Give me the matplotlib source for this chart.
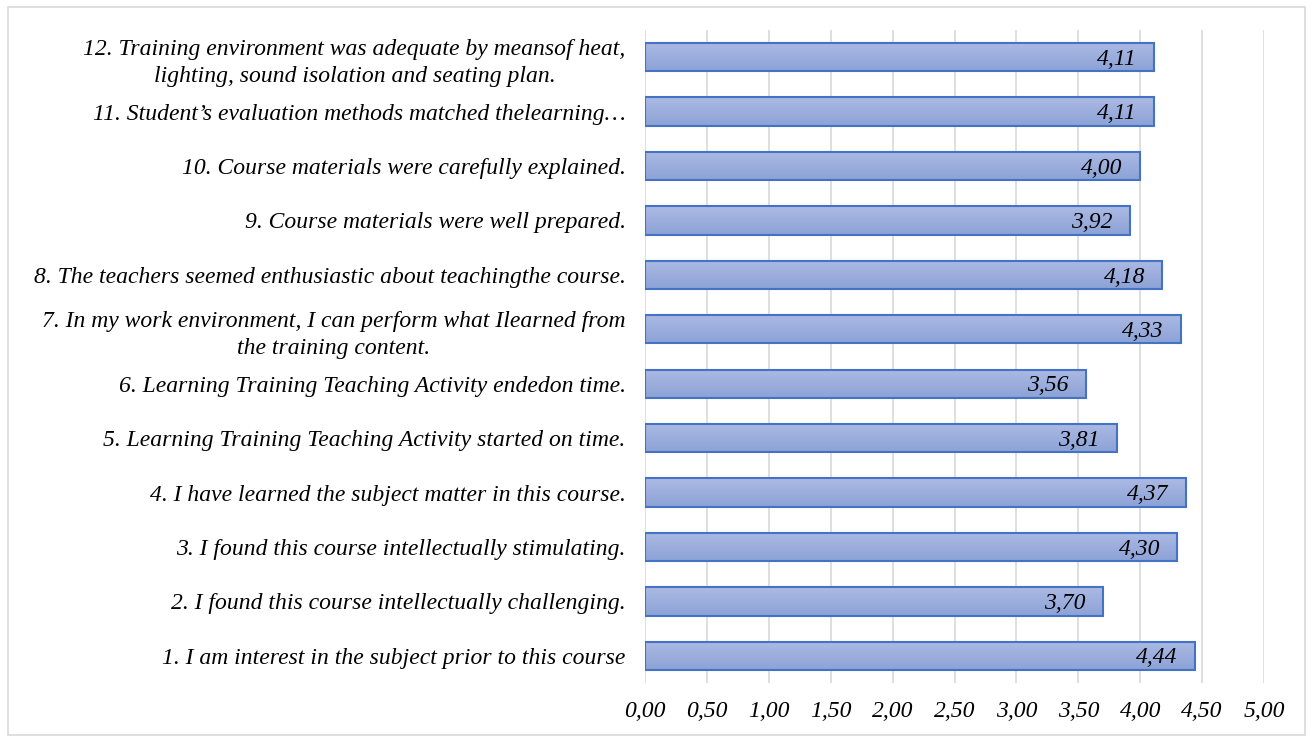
import matplotlib
matplotlib.use("Agg")
import matplotlib.pyplot as plt
from matplotlib.patches import Rectangle
from matplotlib.ticker import FuncFormatter
import numpy as np

labels = [
    "1. I am interest in the subject prior to this course",
    "2. I found this course intellectually challenging.",
    "3. I found this course intellectually stimulating.",
    "4. I have learned the subject matter in this course.",
    "5. Learning Training Teaching Activity started on time.",
    "6. Learning Training Teaching Activity endedon time.",
    "7. In my work environment, I can perform what Ilearned from\nthe training content.",
    "8. The teachers seemed enthusiastic about teachingthe course.",
    "9. Course materials were well prepared.",
    "10. Course materials were carefully explained.",
    "11. Student\u2019s evaluation methods matched thelearning\u2026",
    "12. Training environment was adequate by meansof heat,\nlighting, sound isolation and seating plan.",
]
scores = [4.44, 3.70, 4.30, 4.37, 3.81, 3.56, 4.33, 4.18, 3.92, 4.00, 4.11, 4.11]
x_ticks = [0, 0.5, 1, 1.5, 2, 2.5, 3, 3.5, 4, 4.5, 5]

plt.rcParams["font.family"] = ["Liberation Serif", "DejaVu Serif"]

fig = plt.figure(figsize=(13.13, 7.42), dpi=100)
ax = fig.add_axes([645 / 1313, 1 - 683 / 742, 619 / 1313, 653 / 742])

# light frame around the whole chart
fig.patches.append(Rectangle((8 / 1313, 7 / 742), 1297 / 1313, 728 / 742,
                             transform=fig.transFigure, fill=False,
                             edgecolor="#d9d9d9", linewidth=1.2))

bar_h = 0.52
top_col = np.array([172, 186, 228]) / 255
bot_col = np.array([140, 162, 214]) / 255
grad = np.linspace(0, 1, 64)[:, None]
grad_img = top_col[None, None, :] * (1 - grad[..., None]) + bot_col[None, None, :] * grad[..., None]

y_pos = np.arange(len(scores))
bars = ax.barh(y_pos, scores, height=bar_h, color="none",
               edgecolor="#4472c4", linewidth=1.5, zorder=3)

for bar, val in zip(bars, scores):
    x0, y0 = bar.get_x(), bar.get_y()
    w, h = bar.get_width(), bar.get_height()
    # row 0 (light) goes to the top edge of the bar
    im = ax.imshow(grad_img, extent=[x0, x0 + w, y0, y0 + h], aspect="auto",
                   origin="upper", zorder=2)
    im.set_clip_path(bar)
    ax.text(val - 0.14, y0 + h / 2 - 0.04, f"{val:.2f}".replace(".", ","),
            ha="right", va="center", fontsize=17, fontstyle="italic",
            color="black", zorder=4)

ax.set_xlim(0, 5)
ax.set_ylim(-0.5, len(scores) - 0.5)
ax.set_xticks(x_ticks)
ax.xaxis.set_major_formatter(FuncFormatter(lambda v, p: f"{v:.2f}".replace(".", ",")))
ax.set_yticks(y_pos)
ax.set_yticklabels(labels, multialignment="center", linespacing=1.4)

for lbl in ax.get_xticklabels() + ax.get_yticklabels():
    lbl.set_fontstyle("italic")
    lbl.set_fontsize(17)

ax.tick_params(axis="x", length=0, pad=13)
ax.tick_params(axis="y", length=0, pad=14)
ax.grid(axis="x", color="#d9d9d9", linewidth=1.2, zorder=0)
ax.set_axisbelow(True)
for s in ax.spines.values():
    s.set_visible(False)

fig.savefig("out.png", dpi=100)
